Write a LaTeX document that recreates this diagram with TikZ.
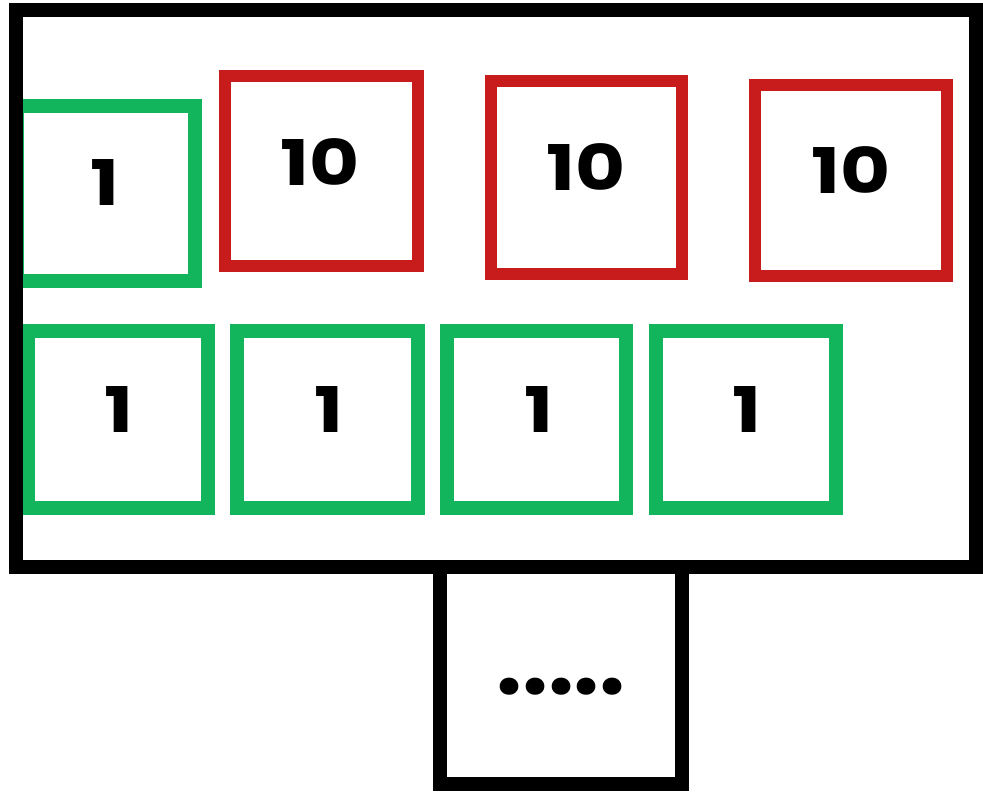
\documentclass[tikz,border=0pt]{standalone}
\usepackage{fontspec}
\setmainfont{Poppins}
\usepackage{graphicx}
\definecolor{boxgreen}{RGB}{18,180,92}
\definecolor{boxred}{RGB}{200,28,28}
\newcommand{\wide}[1]{\scalebox{1.22}[1]{#1}}
\tikzset{
  greenbox/.style={draw=boxgreen, line width=14pt, inner sep=0pt},
  redbox/.style={draw=boxred, line width=12pt, inner sep=0pt},
  framebox/.style={draw=black, line width=14pt},
  digit/.style={font=\bfseries\fontsize{63}{63}\selectfont, inner sep=0pt},
}
\begin{document}
\begin{tikzpicture}[x=1pt,y=-1pt]
\useasboundingbox (0,0) rectangle (983,796);
% top row
\node[greenbox, minimum width=178pt, minimum height=175pt] (g0) at (106,193.5) {};
\node[redbox, minimum width=193pt, minimum height=190pt] (r1) at (321.5,171) {};
\node[redbox, minimum width=191pt, minimum height=193pt] (r2) at (586.5,177.5) {};
\node[redbox, minimum width=192pt, minimum height=191pt] (r3) at (851,180.5) {};
% bottom row
\node[greenbox, minimum width=180pt, minimum height=177pt] (g1) at (118,419.5) {};
\node[greenbox, minimum width=181pt, minimum height=177pt] (g2) at (327.5,419.5) {};
\node[greenbox, minimum width=179pt, minimum height=177pt] (g3) at (536.5,419.5) {};
\node[greenbox, minimum width=180pt, minimum height=177pt] (g4) at (746,419.5) {};
% outer frame and lower box
\node[framebox, minimum width=960pt, minimum height=557pt, inner sep=0pt] (frame) at (496,288.5) {};
\node[framebox, minimum width=242pt, minimum height=217pt, inner sep=0pt] (more) at (561,675.5) {};
% labels
\node[digit] (t0) at (105,182) {\wide{1}};
\node[digit] (t1) at (320,162) {\wide{10}};
\node[digit] (t2) at (586,167) {\wide{10}};
\node[digit] (t3) at (851,170) {\wide{10}};
\node[digit] (b1) at (119,409) {\wide{1}};
\node[digit] (b2) at (329,409) {\wide{1}};
\node[digit] (b3) at (539,409) {\wide{1}};
\node[digit] (b4) at (747,409) {\wide{1}};
\node[font=\bfseries\fontsize{92}{92}\selectfont, inner sep=0pt, anchor=base] (dots) at (561,694) {.....};
\end{tikzpicture}
\end{document}
